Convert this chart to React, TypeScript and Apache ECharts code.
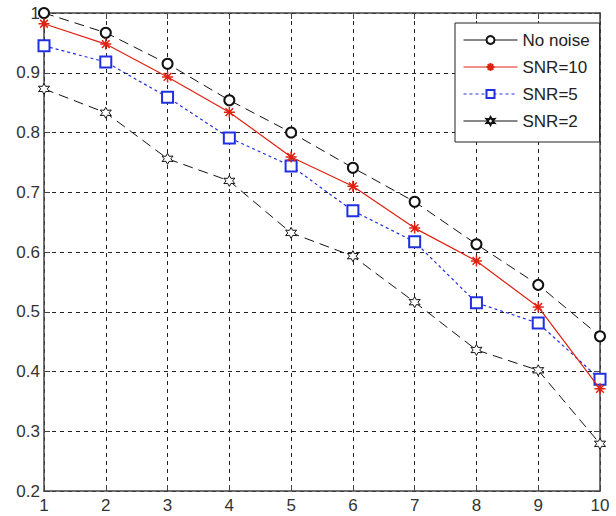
import React, { useEffect, useRef } from "react";
import * as echarts from "echarts";

const xValues = [1, 2, 3, 4, 5, 6, 7, 8, 9, 10];
const noNoise = [1.0, 0.967, 0.915, 0.854, 0.8, 0.741, 0.684, 0.613, 0.545, 0.459];
const snr10 = [0.982, 0.948, 0.893, 0.834, 0.759, 0.71, 0.64, 0.585, 0.508, 0.371];
const snr5 = [0.945, 0.918, 0.859, 0.791, 0.744, 0.669, 0.617, 0.515, 0.481, 0.387];
const snr2 = [0.873, 0.833, 0.756, 0.719, 0.632, 0.593, 0.516, 0.436, 0.402, 0.279];
const seriesNames = ["No noise", "SNR=10", "SNR=5", "SNR=2"];

const asterisk = "path://M5 0 L5 10 M0 5 L10 5 M1.5 1.5 L8.5 8.5 M1.5 8.5 L8.5 1.5";
const hexagram =
  "path://M5 0 L6.3 2.75 L9.33 2.5 L7.6 5 L9.33 7.5 L6.3 7.25 L5 10 L3.7 7.25 L0.67 7.5 L2.4 5 L0.67 2.5 L3.7 2.75 Z";

const font = "'Liberation Sans', Arial, sans-serif";

export default function App() {
  const ref = useRef<HTMLDivElement>(null);
  useEffect(() => {
    if (!ref.current) return;
    const chart = echarts.init(ref.current, null, { renderer: "svg" });
    const pair = (arr: number[]) => xValues.map((x, i) => [x, arr[i]]);
    const axisLine = { show: true, lineStyle: { color: "#444", width: 1.5 } };
    const tick = { show: true, inside: true, length: 6, lineStyle: { color: "#444" } };
    const grid = { show: true, lineStyle: { color: "#222", type: [4, 4], width: 1 } };
    chart.setOption({
      animation: false,
      backgroundColor: "#fff",
      grid: { left: 44, right: 16, top: 13, bottom: 25 },
      xAxis: [
        {
          type: "value",
          min: 1,
          max: 10,
          interval: 1,
          axisLine,
          axisTick: tick,
          axisLabel: { fontSize: 17, color: "#333", fontFamily: font, margin: 6 },
          splitLine: grid,
        },
        {
          type: "value",
          position: "top",
          min: 1,
          max: 10,
          interval: 1,
          axisLine,
          axisTick: tick,
          axisLabel: { show: false },
          splitLine: { show: false },
        },
      ],
      yAxis: [
        {
          type: "value",
          min: 0.2,
          max: 1,
          interval: 0.1,
          axisLine,
          axisTick: tick,
          axisLabel: {
            fontSize: 17,
            color: "#333",
            fontFamily: font,
            margin: 4,
            formatter: (v: number) => String(Math.round(v * 10) / 10),
          },
          splitLine: grid,
        },
        {
          type: "value",
          position: "right",
          min: 0.2,
          max: 1,
          interval: 0.1,
          axisLine,
          axisTick: tick,
          axisLabel: { show: false },
          splitLine: { show: false },
        },
      ],
      legend: {
        orient: "vertical",
        left: 455,
        top: 23,
        padding: [8, 10, 12, 8],
        itemWidth: 54,
        itemHeight: 10,
        itemGap: 9,
        backgroundColor: "#fff",
        borderColor: "#222",
        borderWidth: 1,
        borderRadius: 0,
        textStyle: { fontSize: 17, lineHeight: 18, color: "#222", fontFamily: font },
        data: [
          { name: seriesNames[0], lineStyle: { type: "solid", width: 1 } },
          { name: seriesNames[1], lineStyle: { width: 1 } },
          { name: seriesNames[2], lineStyle: { width: 1 } },
          { name: seriesNames[3], lineStyle: { type: "solid", width: 1 } },
        ],
      },
      series: [
        {
          name: seriesNames[0],
          type: "line",
          data: pair(noNoise),
          symbol: "emptyCircle",
          symbolSize: 10,
          showAllSymbol: true,
          lineStyle: { color: "#111", width: 1, type: [10, 6] },
          itemStyle: { color: "#111", borderColor: "#111", borderWidth: 1 },
          z: 4,
        },
        {
          name: seriesNames[1],
          type: "line",
          data: pair(snr10),
          symbol: asterisk,
          symbolSize: 11,
          lineStyle: { color: "#e02010", width: 1.2, type: "solid" },
          itemStyle: { color: "#e02010", borderColor: "#e02010", borderWidth: 1.5 },
          z: 5,
        },
        {
          name: seriesNames[2],
          type: "line",
          data: pair(snr5),
          symbol: "emptyRect",
          symbolSize: 11,
          lineStyle: { color: "#2030e0", width: 1.2, type: [3, 3] },
          itemStyle: { color: "#2030e0", borderColor: "#2030e0", borderWidth: 1.2 },
          z: 3,
        },
        {
          name: seriesNames[3],
          type: "line",
          data: pair(snr2),
          symbol: hexagram,
          symbolSize: 11,
          lineStyle: { color: "#111", width: 1, type: [10, 6] },
          itemStyle: { color: "#fff", borderColor: "#111", borderWidth: 1 },
          z: 3,
        },
      ],
    });
    return () => chart.dispose();
  }, []);
  return (
    <div
      ref={ref}
      style={{ position: "absolute", left: 0, top: 0, width: 616, height: 516 }}
    />
  );
}
